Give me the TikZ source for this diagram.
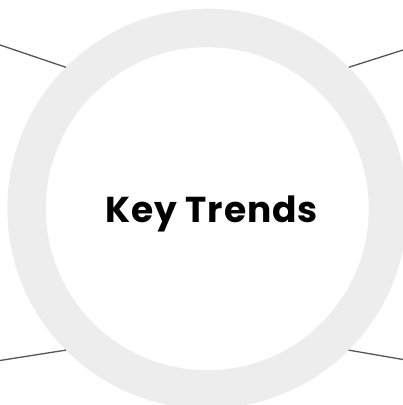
\documentclass[tikz,border=0pt]{standalone}
\usepackage{fontspec}
\setmainfont{Poppins}[LetterSpace=2.5]
\usepackage{tikz}
\definecolor{ringgray}{HTML}{EDEDED}
\definecolor{spokegray}{HTML}{555555}
\tikzstyle{hub} = [circle,draw=ringgray,line width=38.5pt,minimum size=361.5pt]
\tikzstyle{title} = [font=\fontsize{36}{40}\selectfont\bfseries,inner sep=0pt]
\tikzstyle{spoke} = [draw=spokegray,line width=1.3pt]

\begin{document}
\begin{tikzpicture}[x=1pt,y=-1pt]
      \useasboundingbox (0,0) rectangle (403,405);
      \node[hub] (hub) at (207.3, 208.7) {};
      \node[title] [anchor=base] (title) at (211.5, 222.3) {Key Trends};

      \coordinate (nw) at (0, 45);
      \coordinate (ne) at (403, 50);
      \coordinate (sw) at (0, 360.5);
      \coordinate (se) at (403, 359.5);

      \draw[spoke] (nw) -- (hub.135);
      \draw[spoke] (ne) -- (hub.45);
      \draw[spoke] (sw) -- (hub.225);
      \draw[spoke] (se) -- (hub.315);
    \end{tikzpicture}
\end{document}
